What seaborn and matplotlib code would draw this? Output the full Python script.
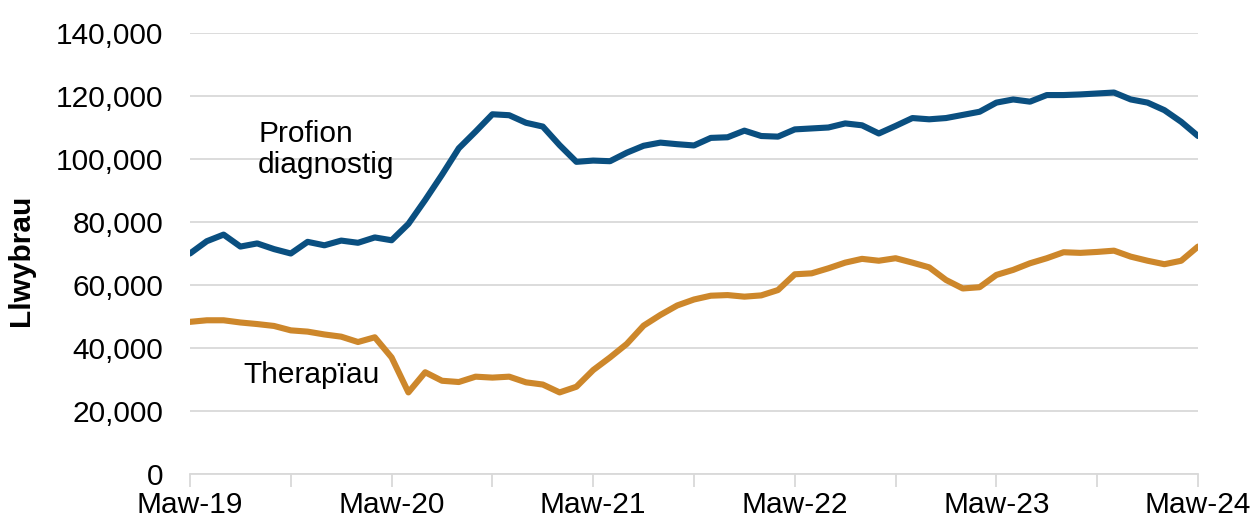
import matplotlib
matplotlib.use("Agg")
import matplotlib.pyplot as plt
import seaborn as sns
import pandas as pd
import numpy as np
from matplotlib.ticker import FuncFormatter, MultipleLocator

# Monthly values, Mawrth 2019 -> Mawrth 2024
diagnostig = [70000, 73900, 76000, 72200, 73200, 71400, 70000, 73700, 72600, 74100,
              73400, 75100, 74200, 79400, 87000, 95000, 103400, 108700, 114200, 113900,
              111500, 110300, 104400, 99100, 99500, 99300, 102000, 104200, 105200, 104700,
              104300, 106700, 106900, 109000, 107300, 107100, 109400, 109700, 110000, 111300,
              110700, 108100, 110500, 113000, 112600, 113000, 114000, 115000, 117900, 118900,
              118200, 120300, 120300, 120500, 120800, 121100, 118900, 117900, 115500, 111800,
              107300]
therapiau = [48300, 48800, 48800, 48100, 47600, 47000, 45600, 45200, 44300, 43600,
             41900, 43400, 37000, 25900, 32300, 29600, 29200, 30900, 30600, 30900,
             29100, 28400, 25900, 27700, 33000, 37000, 41300, 47100, 50500, 53500,
             55400, 56600, 56800, 56300, 56700, 58400, 63400, 63700, 65300, 67100,
             68300, 67700, 68500, 67100, 65600, 61600, 58900, 59300, 63200, 64800,
             66900, 68500, 70400, 70200, 70500, 70900, 69000, 67700, 66600, 67700,
             72200]
tick_labels = ["Maw-19", "Maw-20", "Maw-21", "Maw-22", "Maw-23", "Maw-24"]
series_names = ["Profion diagnostig", "Therapïau"]

months = np.arange(len(diagnostig))
df = pd.DataFrame({
    "mis": np.concatenate([months, months]),
    "llwybrau": diagnostig + therapiau,
    "cyfres": [series_names[0]] * len(diagnostig) + [series_names[1]] * len(therapiau),
})

sns.set_theme(style="white")
plt.rcParams["font.family"] = ["Liberation Sans", "DejaVu Sans"]

FS = 21.5
fig = plt.figure(figsize=(12.53, 5.21), dpi=100)
ax = fig.add_axes([190 / 1253, 1 - 474 / 521, (1198 - 190) / 1253, (474 - 33) / 521])

sns.lineplot(data=df, x="mis", y="llwybrau", hue="cyfres",
             palette={series_names[0]: "#0A4F80", series_names[1]: "#CD872B"},
             linewidth=4.4, legend=False, ax=ax, solid_capstyle="round",
             solid_joinstyle="round")

ax.set_xlim(0, 60)
ax.set_ylim(0, 140000)
ax.yaxis.set_major_locator(MultipleLocator(20000))
ax.yaxis.set_major_formatter(FuncFormatter(lambda v, p: f"{int(v):,}"))
ax.set_xticks(np.arange(0, 61, 12))
ax.set_xticklabels(tick_labels)
ax.set_xticks(np.arange(6, 61, 12), minor=True)

ax.grid(axis="y", color="#D9D9D9", linewidth=1.3)
ax.grid(axis="x", visible=False)
ax.set_axisbelow(True)
for s in ["top", "right", "left"]:
    ax.spines[s].set_visible(False)
ax.spines["bottom"].set_color("#D9D9D9")
ax.spines["bottom"].set_linewidth(1.3)

ax.tick_params(axis="y", length=0, pad=19, labelsize=FS, labelcolor="black")
ax.tick_params(axis="x", which="both", direction="out", length=9, width=1.3,
               color="#D9D9D9", bottom=True, labelsize=FS, labelcolor="black", pad=3)

ax.set_xlabel("")
ax.set_ylabel("Llwybrau", fontsize=FS, fontweight="bold", color="black")
ax.yaxis.set_label_coords(-0.154, 0.485)

ax.text(4.05, 103000, "Profion\ndiagnostig", fontsize=FS, color="black",
        va="center", ha="left", linespacing=1.1)
ax.text(3.15, 31400, "Therapïau", fontsize=FS, color="black", va="center", ha="left")

fig.savefig("out.png", dpi=100)
